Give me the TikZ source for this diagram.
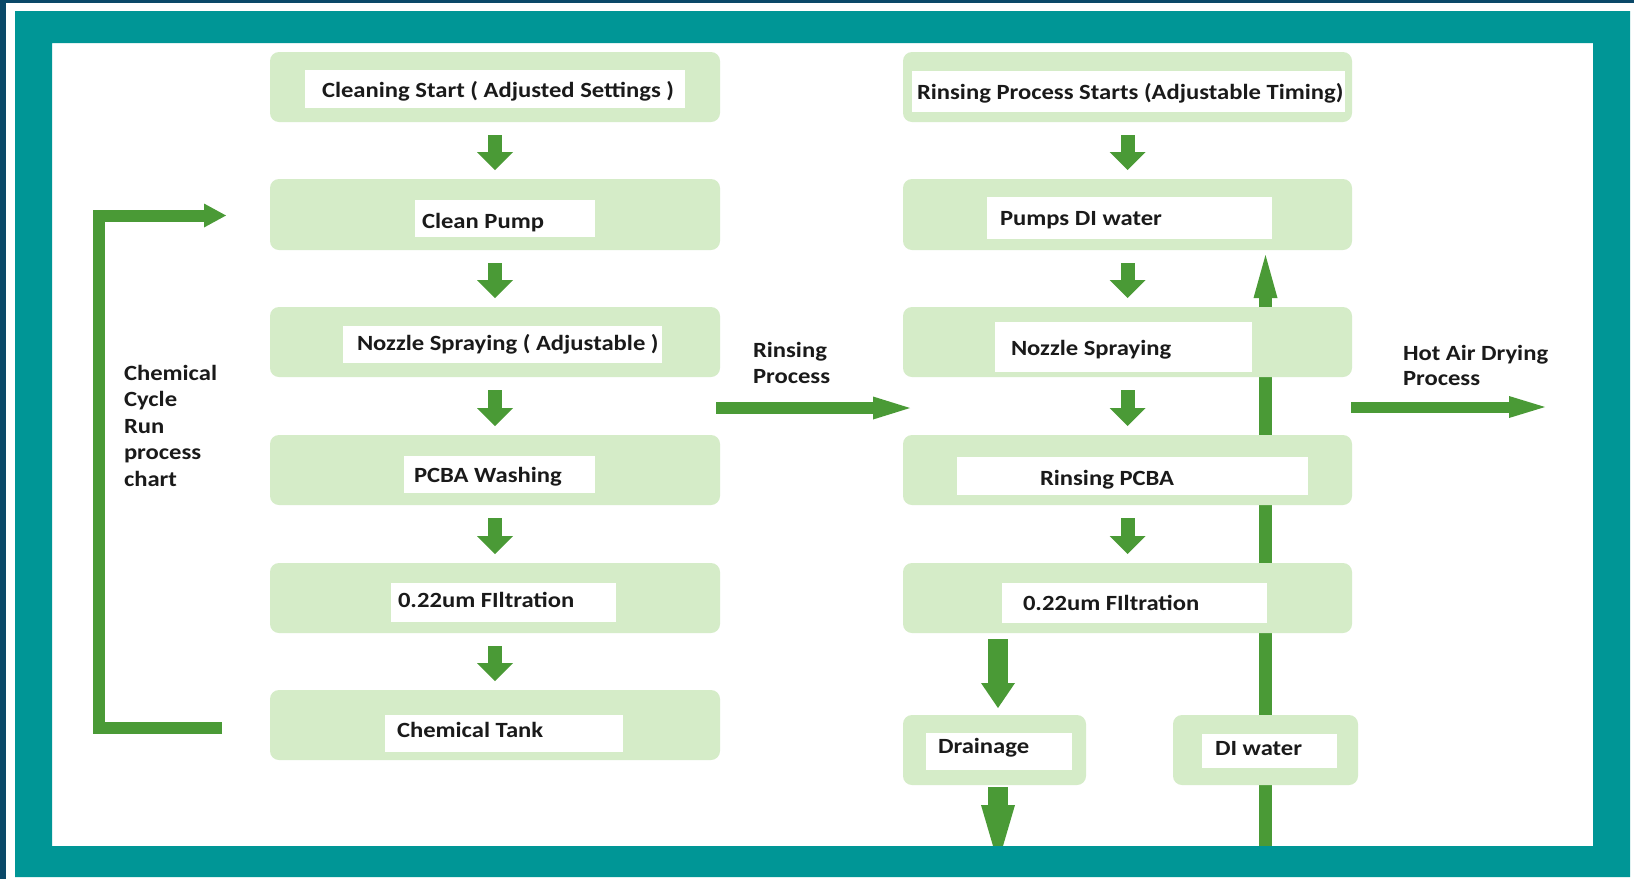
\documentclass[tikz,border=0pt]{standalone}
\usepackage{fontspec}
\setmainfont{Carlito}[FakeStretch=1.135]
\usetikzlibrary{arrows.meta}
\definecolor{navy}{HTML}{0A4868}
\definecolor{tealf}{HTML}{009696}
\definecolor{boxg}{HTML}{D5ECC8}
\definecolor{arrg}{HTML}{4A9A36}
\definecolor{txtc}{HTML}{1A1A1A}
\pgfdeclarelayer{back}
\pgfdeclarelayer{lines}
\pgfdeclarelayer{front}
\pgfsetlayers{back,lines,main,front}
\begin{document}
\begin{tikzpicture}[x=1pt,y=-1pt,
  bigbox/.style={fill=boxg, draw=none, rounded corners=9pt, inner sep=0pt, outer sep=0pt, minimum height=70pt},
  lbox/.style={fill=white, draw=none, inner sep=0pt, outer sep=0pt},
  txt/.style={anchor=base west, inner sep=0pt, outer sep=0pt, text=txtc, font=\fontsize{21.7}{26}\selectfont\bfseries},
  downarr/.style={draw=arrg, line width=14pt, -{Triangle[width=36pt,length=18pt,line width=0pt]}, shorten <=13pt, shorten >=9pt},
  thickarr/.style={draw=arrg, line width=#1, line join=miter},
]
\useasboundingbox (0,0) rectangle (1634,879);
\begin{pgfonlayer}{back}
  \fill[navy] (0,0) rectangle (1634,879);
  \fill[white] (6,3) rectangle (1634,879);
\end{pgfonlayer}

% left column
\node[bigbox, minimum width=450pt] (l1) at (495,87) {};
\node[bigbox, minimum width=450pt, minimum height=71pt] (l2) at (495,214.5) {};
\node[bigbox, minimum width=450pt] (l3) at (495,342) {};
\node[bigbox, minimum width=450pt] (l4) at (495,470) {};
\node[bigbox, minimum width=450pt] (l5) at (495,598) {};
\node[bigbox, minimum width=450pt] (l6) at (495,725) {};
% right column
\node[bigbox, minimum width=449pt] (r1) at (1127.5,87) {};
\node[bigbox, minimum width=449pt, minimum height=71pt] (r2) at (1127.5,214.5) {};
\node[bigbox, minimum width=449pt] (r3) at (1127.5,342) {};
\node[bigbox, minimum width=449pt] (r4) at (1127.5,470) {};
\node[bigbox, minimum width=449pt] (r5) at (1127.5,598) {};
\node[bigbox, minimum width=183pt] (dr) at (994.5,750) {};
\node[bigbox, minimum width=185pt] (dw) at (1265.5,750) {};

% white label boxes
\node[lbox, minimum width=380pt, minimum height=38pt] (L1) at (495,89) {};
\node[lbox, minimum width=180pt, minimum height=37pt] (L2) at (505,218.5) {};
\node[lbox, minimum width=319pt, minimum height=37pt] (L3) at (502.5,344.5) {};
\node[lbox, minimum width=191pt, minimum height=37pt] (L4) at (499.5,474.5) {};
\node[lbox, minimum width=225pt, minimum height=39pt] (L5) at (503.5,602.5) {};
\node[lbox, minimum width=238pt, minimum height=37pt] (L6) at (504,733.5) {};
\node[lbox, minimum width=433pt, minimum height=41pt] (R1) at (1128.5,91.5) {};
\node[lbox, minimum width=285pt, minimum height=42pt] (R2) at (1129.5,218) {};
\node[lbox, minimum width=257pt, minimum height=50pt] (R3) at (1123.5,347) {};
\node[lbox, minimum width=351pt, minimum height=38pt] (R4) at (1132.5,476) {};
\node[lbox, minimum width=265pt, minimum height=40pt] (R5) at (1134.5,603) {};
\node[lbox, minimum width=146pt, minimum height=37pt] (DR) at (999,751.5) {};
\node[lbox, minimum width=135pt, minimum height=34pt] (DW) at (1269.5,751) {};

% texts
\node[txt] (t1) at (322,97) {Cleaning Start ( Adjusted Settings )};
\node[txt] (t2) at (422,228) {Clean Pump};
\node[txt] (t3) at (357,350) {Nozzle Spraying ( Adjustable )};
\node[txt] (t4) at (414,482) {PCBA Washing};
\node[txt] (t5) at (398,607) {0.22um FIltration};
\node[txt] (t6) at (397,737) {Chemical Tank};
\node[txt] (u1) at (917,99) {Rinsing Process Starts (Adjustable Timing)};
\node[txt] (u2) at (1000,225) {Pumps DI water};
\node[txt] (u3) at (1011,355) {Nozzle Spraying};
\node[txt] (u4) at (1040,485) {Rinsing PCBA};
\node[txt] (u5) at (1023,610) {0.22um FIltration};
\node[txt] (u6) at (938,753) {Drainage};
\node[txt] (u7) at (1215,755) {DI water};

\node[txt] (c1) at (124,380) {Chemical};
\node[txt] (c2) at (124,406.5) {Cycle};
\node[txt] (c3) at (124,433) {Run};
\node[txt] (c4) at (124,459.5) {process};
\node[txt] (c5) at (124,486) {chart};
\node[txt] (p1) at (753,357) {Rinsing};
\node[txt] (p2) at (753,383) {Process};
\node[txt] (h1) at (1403,360) {Hot Air Drying};
\node[txt] (h2) at (1403,385) {Process};

% down arrows
\draw[downarr] (l1.south) -- (l2.north);
\draw[downarr] (l2.south) -- (l3.north);
\draw[downarr] (l3.south) -- (l4.north);
\draw[downarr] (l4.south) -- (l5.north);
\draw[downarr] (l5.south) -- (l6.north);
\draw[downarr] (r1.south) -- (r2.north);
\draw[downarr] (r2.south) -- (r3.north);
\draw[downarr] (r3.south) -- (r4.north);
\draw[downarr] (r4.south) -- (r5.north);

% drainage arrows
\coordinate (drEnd) at (998,863);
\draw[thickarr=20pt, -{Triangle[width=34pt,length=25pt,line width=0pt]}, shorten <=6pt, shorten >=7pt] ([xshift=3.5pt]dr.north |- r5.south) -- ([xshift=3.5pt]dr.north);
\draw[thickarr=20pt, -{Triangle[width=34pt,length=58pt,line width=0pt]}, shorten <=2pt] ([xshift=3.5pt]dr.south) -- (drEnd);

% DI water return line (behind boxes)
\coordinate (dwEnd) at (1265.5,852);
\begin{pgfonlayer}{lines}
  \draw[thickarr=13pt] (dwEnd) -- (dw.south);
  \draw[thickarr=13pt, -{Triangle[width=24pt,length=43pt,line width=0pt]}, shorten >=5pt] (dw.north) -- (dw.north |- r2.south);
\end{pgfonlayer}

% chemical cycle feedback
\coordinate (fbS) at (222,727.5);
\coordinate (fbE) at (226,215.5);
\draw[thickarr=12pt, -{Triangle[width=24pt,length=22pt,line width=0pt]}] (fbS) -- ++(-123,0) |- (fbE);

% rinsing process arrow
\coordinate (rpS) at (716,408);
\coordinate (rpE) at (910,408);
\draw[thickarr=12pt, -{Triangle[width=23pt,length=37pt,line width=0pt]}] (rpS) -- (rpE);

% hot air drying arrow
\coordinate (haS) at (1351,407);
\coordinate (haE) at (1545,407);
\draw[thickarr=11pt, -{Triangle[width=22pt,length=36pt,line width=0pt]}] (haS) -- (haE);

\begin{pgfonlayer}{front}
  \fill[tealf, even odd rule] (15,11) rectangle (1630,877) (52,43) rectangle (1593,846);
\end{pgfonlayer}
\end{tikzpicture}
\end{document}
